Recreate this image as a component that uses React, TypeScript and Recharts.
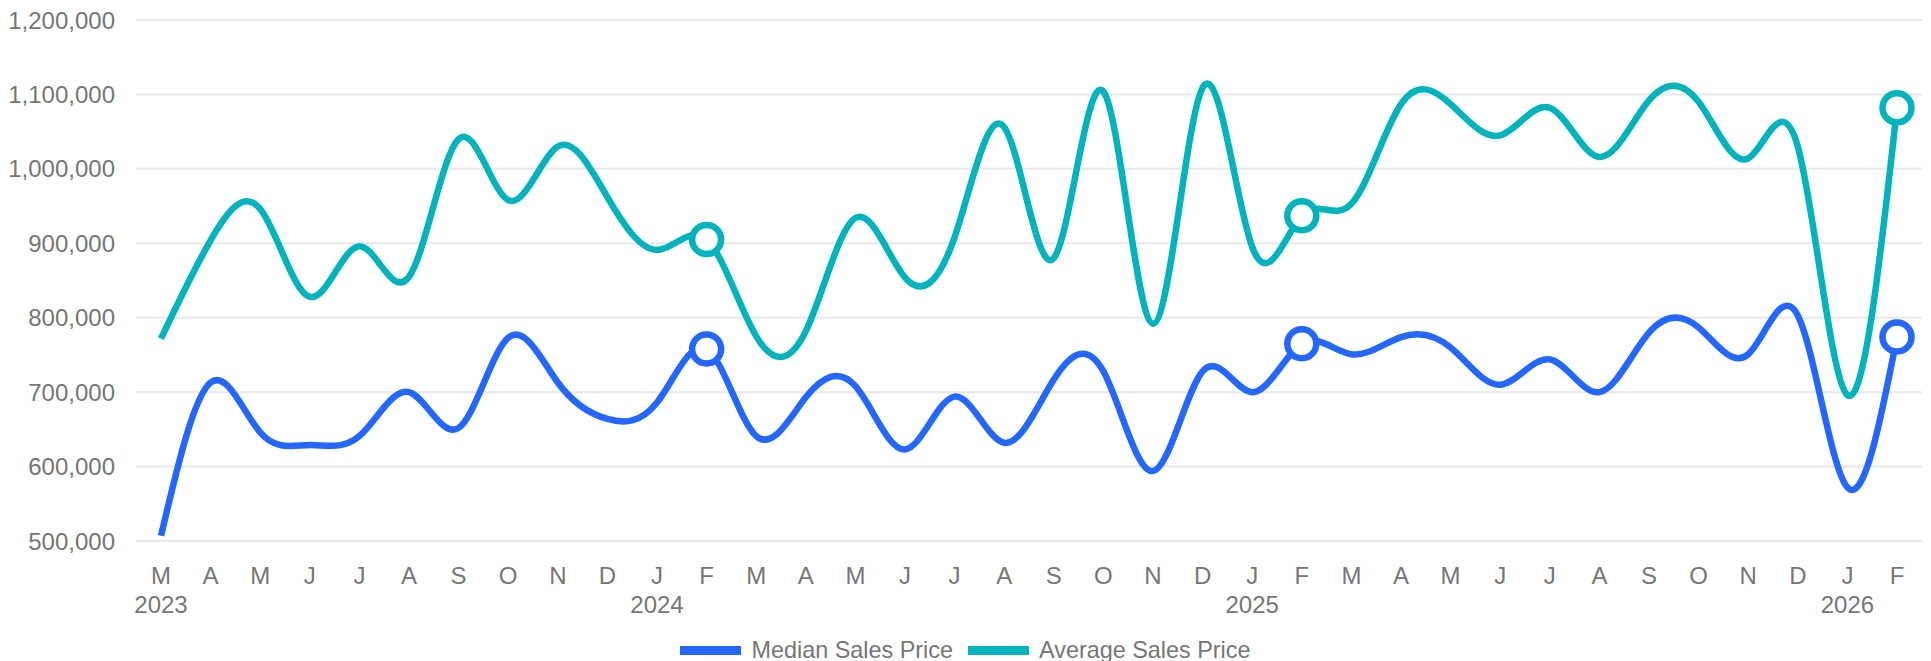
import { LineChart, Line, XAxis, YAxis, CartesianGrid, Legend } from 'recharts';

// Mar 2023 .. Feb 2026
const MONTHS = [
    'M', 'A', 'M', 'J', 'J', 'A', 'S', 'O', 'N', 'D', 'J', 'F',
    'M', 'A', 'M', 'J', 'J', 'A', 'S', 'O', 'N', 'D', 'J', 'F',
    'M', 'A', 'M', 'J', 'J', 'A', 'S', 'O', 'N', 'D', 'J', 'F',
];

const YEARS: Record<number, string> = { 0: '2023', 10: '2024', 22: '2025', 34: '2026' };

const MEDIAN = [
    507000, 713000, 646000, 629000, 641000, 700000, 652000, 773000, 713000, 664000, 686000, 758000,
    641000, 693000, 708000, 623000, 694000, 632000, 717000, 728000, 594000, 728000, 700000, 765000,
    751000, 774000, 760000, 710000, 744000, 700000, 780000, 787000, 751000, 803000, 572000, 774000,
];

const AVERAGE = [
    772000, 904000, 946000, 828000, 896000, 855000, 1040000, 958000, 1030000, 962000, 891000, 905000,
    775000, 782000, 934000, 854000, 908000, 1056000, 880000, 1104000, 792000, 1109000, 895000, 937000,
    953000, 1087000, 1087000, 1045000, 1082000, 1016000, 1092000, 1090000, 1014000, 1030000, 696000, 1082000,
];

const Y_TICKS = [500000, 600000, 700000, 800000, 900000, 1000000, 1100000, 1200000];

// points that get a hollow marker (each February)
const MARKED = [11, 23, 35];

const SERIES_ORDER = ['Median Sales Price', 'Average Sales Price'];

const BLUE = '#2367ff';
const TEAL = '#00b3bd';
const TEXT = '#767676';
const FONT = '"Liberation Sans", Arial, Helvetica, sans-serif';

const data = MONTHS.map((m, i) => ({ idx: i, median: MEDIAN[i], average: AVERAGE[i] }));

function MonthTick(props: any) {
    const { x, y, payload } = props;
    const i = payload.value as number;
    return (
        <g>
            <text x={x} y={y} dy={43} textAnchor="middle" fill={TEXT} fontSize={24} fontFamily={FONT}>
                {MONTHS[i]}
            </text>
            {YEARS[i] && (
                <text x={x} y={y} dy={72} textAnchor="middle" fill={TEXT} fontSize={24} fontFamily={FONT}>
                    {YEARS[i]}
                </text>
            )}
        </g>
    );
}

function markerDot(color: string) {
    return (props: any) => {
        const { cx, cy, index } = props;
        if (!MARKED.includes(index)) return <g key={`d-${index}`} />;
        return <circle key={`d-${index}`} cx={cx} cy={cy} r={14.5} fill="#fff" stroke={color} strokeWidth={6.5} />;
    };
}

function LegendContent(props: any) {
    const items = [...(props.payload || [])].sort(
        (a: any, b: any) => SERIES_ORDER.indexOf(a.value) - SERIES_ORDER.indexOf(b.value)
    );
    return (
        <div style={{ display: 'flex', justifyContent: 'center', alignItems: 'center', fontFamily: FONT }}>
            {items.map((p: any, i: number) => (
                <div key={i} style={{ display: 'flex', alignItems: 'center', marginLeft: i ? 15 : 0 }}>
                    <div style={{ width: 61, height: 9, background: p.color, marginRight: 10 }} />
                    <span style={{ fontSize: 23.4, color: TEXT, lineHeight: '30px' }}>{p.value}</span>
                </div>
            ))}
        </div>
    );
}

export default function App() {
    return (
        <div style={{ position: 'absolute', left: 0, top: 0, width: 1931, height: 661, background: '#fff' }}>
            <LineChart width={1931} height={661} data={data} margin={{ top: 20, right: 9, left: 0, bottom: 0 }}>
                <CartesianGrid vertical={false} stroke="#e8e8e8" strokeWidth={2} />
                <XAxis
                    dataKey="idx"
                    axisLine={false}
                    tickLine={false}
                    tickSize={0}
                    tickMargin={0}
                    interval={0}
                    height={120}
                    padding={{ left: 25, right: 25 }}
                    tick={<MonthTick />}
                />
                <YAxis
                    domain={[500000, 1200000]}
                    ticks={Y_TICKS}
                    width={136}
                    axisLine={false}
                    tickLine={false}
                    tickSize={0}
                    tickMargin={21}
                    tick={{ fill: TEXT, fontSize: 24, fontFamily: FONT }}
                    tickFormatter={(v: number) => v.toLocaleString('en-US')}
                />
                <Legend
                    verticalAlign="middle"
                    align="center"
                    layout="horizontal"
                    wrapperStyle={{ top: 635, left: 0, width: 1931 }}
                    content={<LegendContent />}
                />
                <Line
                    type="natural"
                    dataKey="median"
                    name="Median Sales Price"
                    stroke={BLUE}
                    strokeWidth={6.5}
                    dot={markerDot(BLUE)}
                    activeDot={false}
                    isAnimationActive={false}
                />
                <Line
                    type="natural"
                    dataKey="average"
                    name="Average Sales Price"
                    stroke={TEAL}
                    strokeWidth={6.5}
                    dot={markerDot(TEAL)}
                    activeDot={false}
                    isAnimationActive={false}
                />
            </LineChart>
        </div>
    );
}
